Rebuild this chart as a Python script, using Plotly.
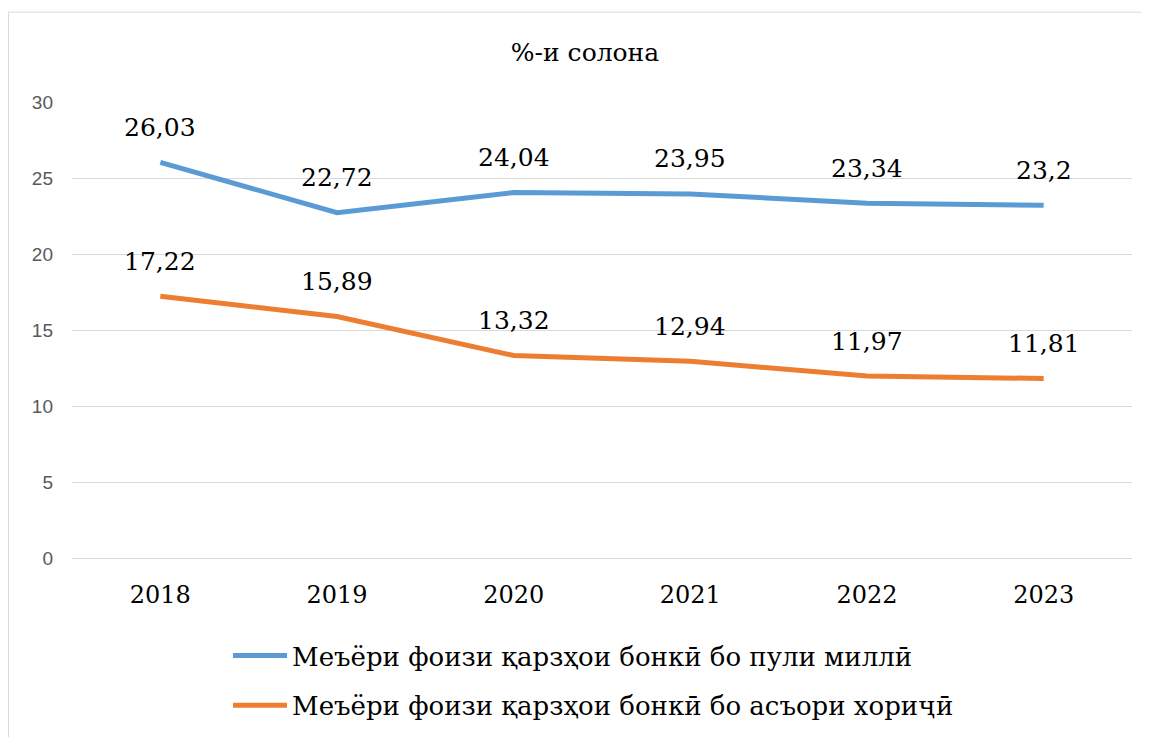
import plotly.graph_objects as go

years = ["2018", "2019", "2020", "2021", "2022", "2023"]
national = [26.03, 22.72, 24.04, 23.95, 23.34, 23.2]
foreign = [17.22, 15.89, 13.32, 12.94, 11.97, 11.81]
y_ticks = [0, 5, 10, 15, 20, 25, 30]

names = ["Меъёри фоизи қарзҳои бонкӣ бо пули миллӣ",
         "Меъёри фоизи қарзҳои бонкӣ бо асъори хориҷӣ"]
colors = ["#5B9BD5", "#ED7D31"]
# only DejaVu Serif resolves as a serif face in this environment
serif = "DejaVu Serif"


def fmt(v):
    return str(v).replace(".", ",")


fig = go.Figure()
for i, (vals, name, color) in enumerate(zip([national, foreign], names, colors)):
    fig.add_trace(go.Scatter(x=years, y=vals, mode="lines", name=name,
                             legendgroup=f"g{i}",
                             line=dict(color=color, width=5)))
    # numeric-looking strings would be read as indices on a category axis,
    # so place the labels by category index
    for k, v in enumerate(vals):
        fig.add_annotation(x=k, y=v, text=fmt(v), showarrow=False, yshift=35,
                           font=dict(family=serif, size=25, color="black"))

# chart border
fig.add_shape(type="rect", xref="paper", yref="paper",
              x0=-0.0599, x1=1.03, y0=-0.6, y1=1.197,
              line=dict(color="#D9D9D9", width=1), layer="below")

# page body has an 8px margin, so the figure is shifted by 8px;
# figure runs past the window bottom so the legend doesn't push the margin
fig.update_layout(
    width=1141, height=780,
    margin=dict(l=64, r=17, t=94, b=230),
    paper_bgcolor="white", plot_bgcolor="white",
    title=dict(text="%-и солона", x=0.5057, xanchor="center", y=1 - 44 / 780,
               yanchor="middle", font=dict(family=serif, size=25, color="black")),
    xaxis=dict(type="category", range=[-0.5, 5.5], showgrid=False, showline=False, ticks="",
               tickfont=dict(family=serif, size=24, color="black"),
               ticklabelstandoff=20),
    yaxis=dict(range=[0, 30], tickvals=y_ticks, showgrid=True, gridcolor="#D9D9D9",
               gridwidth=1, zeroline=True, zerolinecolor="#D9D9D9", zerolinewidth=1,
               showline=False, ticks="",
               tickfont=dict(family="Liberation Sans, Arial, sans-serif", size=19,
                             color="#595959"),
               ticklabelstandoff=18),
    legend=dict(orientation="v", x=0.1472, xanchor="left", y=-0.1625, yanchor="top",
                font=dict(family=serif, size=26, color="black"),
                tracegroupgap=13, itemwidth=54, bgcolor="rgba(0,0,0,0)"),
    showlegend=True,
)

fig.write_html("out.html")
